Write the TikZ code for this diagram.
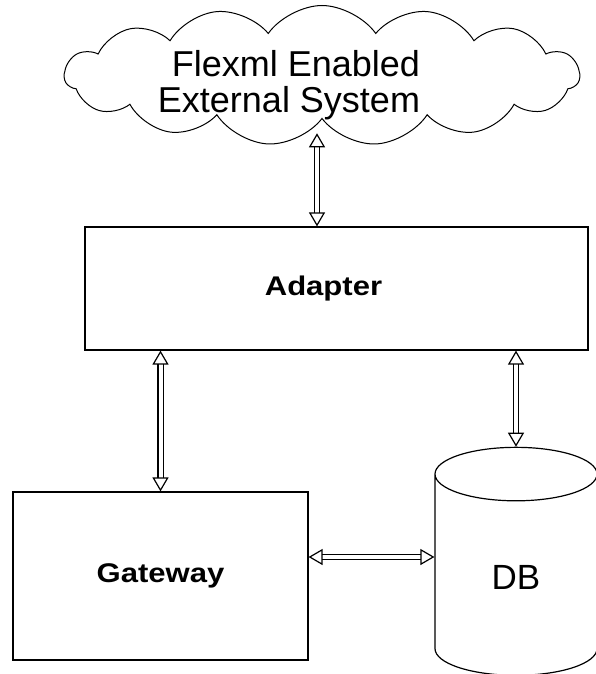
\documentclass[tikz,border=0pt]{standalone}
\usepackage{fontspec}
\setmainfont{Liberation Sans}
\newfontfamily\boxfont[FakeStretch=1.15]{Liberation Sans}
\usetikzlibrary{arrows.meta,shapes.symbols,shapes.geometric}

\begin{document}
\begin{tikzpicture}[
  x=1pt, y=-1pt,
  box/.style={draw, line width=1.2pt, inner sep=0pt, font=\boxfont\bfseries\fontsize{27}{30}\selectfont},
  link/.style={double, double distance=4pt, line width=1.2pt,
    {Triangle[open, length=14pt, width=16pt, line width=1.2pt]}-{Triangle[open, length=14pt, width=16pt, line width=1.2pt]}}
]
  \useasboundingbox (0,0) rectangle (595,674);
  \node[cloud, draw, line width=1pt, cloud puffs=15, cloud puff arc=110, aspect=4.2,
        minimum width=515pt, minimum height=140pt, inner sep=0pt,
        font=\fontsize{36}{34}\selectfont] (ext) at (322,75.5)
        {\hspace*{-66pt}\raisebox{-17pt}[0pt][0pt]{\begin{tabular}{@{}r@{}}Flexml Enabled\\External System\end{tabular}}};
  \node[box, minimum width=503pt, minimum height=123pt] (adapter) at (336.5,288.5) {\hspace*{-26pt}Adapter};
  \node[box, minimum width=295pt, minimum height=168pt] (gateway) at (160.5,576) {Gateway};
  \node[cylinder, draw, line width=1.2pt, shape border rotate=90, aspect=1.1,
        minimum width=162pt, minimum height=228pt, inner sep=0pt,
        font=\fontsize{35}{40}\selectfont] (db) at (516,575) {\raisebox{-14.5pt}[0pt][0pt]{DB}};
  \draw[link] ([xshift=-5pt,yshift=-14pt]ext.south) -- ([xshift=-5pt]ext.south |- adapter.north);
  \draw[link] (adapter.south -| gateway.north) -- (gateway.north);
  \draw[link] (adapter.south -| db.north) -- (db.north);
  \draw[link] ([yshift=19pt]gateway.east) -- ([yshift=19pt]gateway.east -| db.west);
\end{tikzpicture}
\end{document}
